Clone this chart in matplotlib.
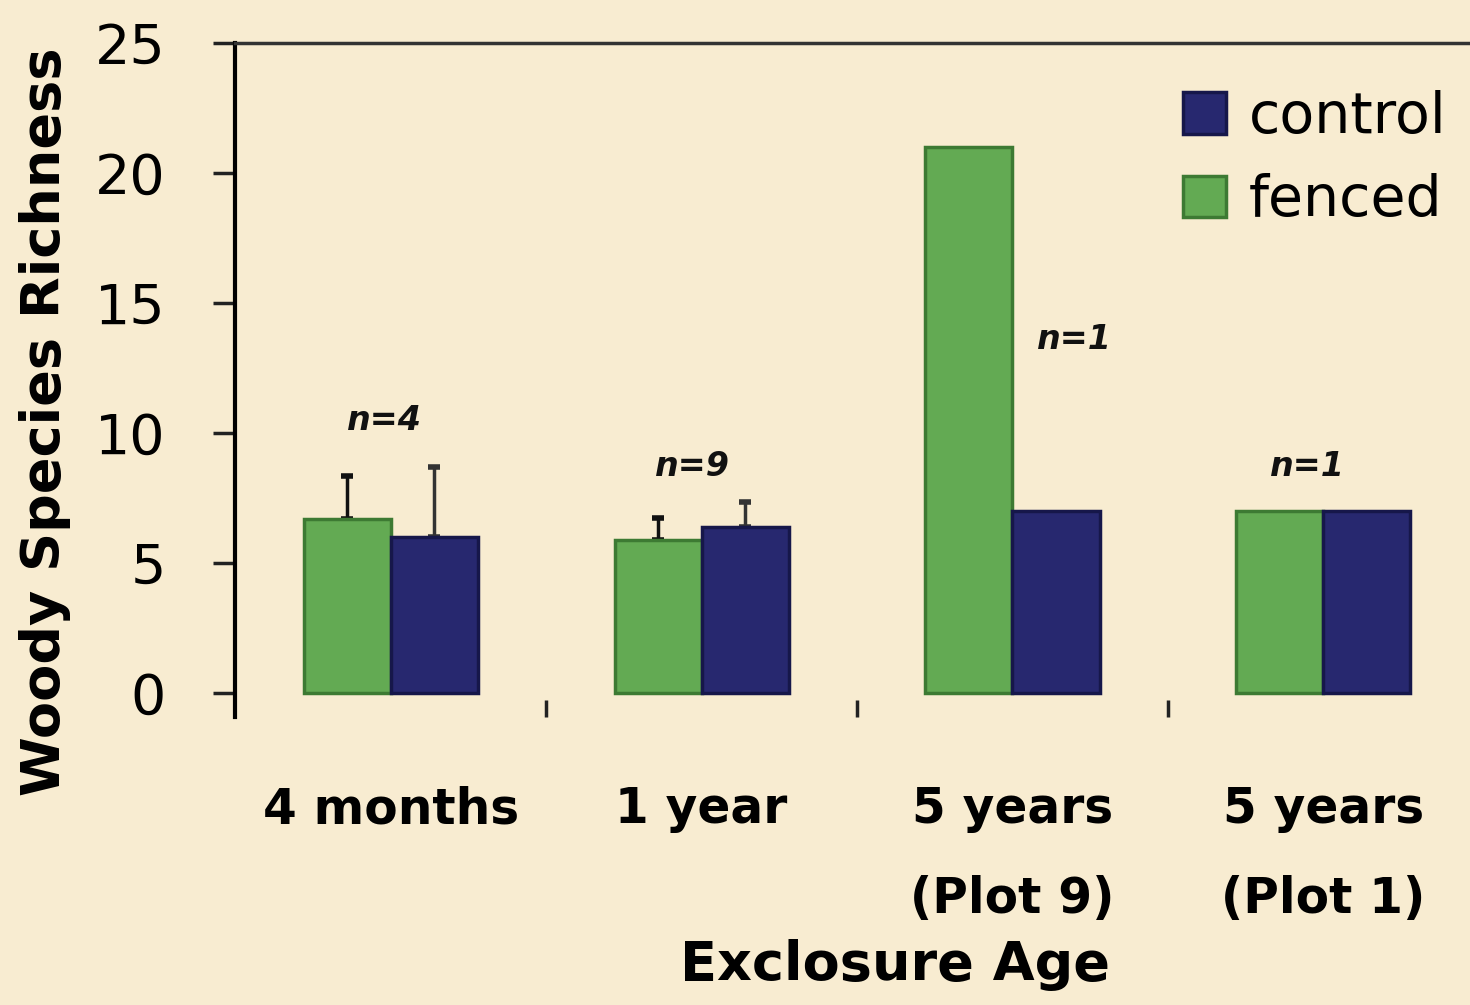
import matplotlib
matplotlib.use("Agg")
import matplotlib.pyplot as plt
import numpy as np

# values
categories = ["4 months", "1 year", "5 years\n(Plot 9)", "5 years\n(Plot 1)"]
fenced = [6.7, 5.9, 21.0, 7.0]
control = [6.0, 6.4, 7.0, 7.0]
fenced_err = [1.65, 0.85, 0, 0]
control_err = [2.7, 0.95, 0, 0]
n_labels = ["n=4", "n=9", "n=1", "n=1"]
n_pos = [(-0.02, 10.5), (0.97, 8.7), (2.2, 13.6), (2.95, 8.7)]

bg = "#f8ecd1"
green = "#63aa53"
blue = "#27286f"

plt.rcParams["font.family"] = ["DejaVu Sans"]

fig = plt.figure(figsize=(14.7, 10.05), dpi=100, facecolor=bg)
ax = fig.add_axes([0.160, 0.2866, 0.846, 0.6706], facecolor=bg)

x = np.arange(len(categories))
w = 0.28
ax.bar(x - w / 2, fenced, w, color=green, edgecolor="#3d7a33", linewidth=2.5,
       label="fenced", zorder=3)
ax.bar(x + w / 2, control, w, color=blue, edgecolor="#16174a", linewidth=2.5,
       label="control", zorder=3)

for xi, v, e in zip(x - w / 2, fenced, fenced_err):
    if e > 0:
        ax.errorbar(xi, v, yerr=[[0], [e]], fmt="none", ecolor="#111111",
                    elinewidth=2.5, capsize=4, capthick=4, zorder=2)
for xi, v, e in zip(x + w / 2, control, control_err):
    if e > 0:
        ax.errorbar(xi, v, yerr=[[0], [e]], fmt="none", ecolor="#333333",
                    elinewidth=2.5, capsize=4, capthick=4, zorder=2)

for lab, (px, py) in zip(n_labels, n_pos):
    ax.text(px, py, lab, fontsize=24, style="italic", fontweight="bold",
            ha="center", va="center", color="#111111")

ax.set_xlim(-0.5, 3.5)
ax.set_ylim(-0.92, 25)
ax.set_yticks([0, 5, 10, 15, 20, 25])
ax.tick_params(axis="y", length=16, width=2.5, pad=34, labelsize=40,
               color="#222222")

ax.set_xticks(x)
ax.set_xticklabels(categories, fontsize=35, fontweight="bold", linespacing=2.1)
ax.tick_params(axis="x", which="major", length=0, pad=49)
ax.set_xticks([0.5, 1.5, 2.5], minor=True)
ax.tick_params(axis="x", which="minor", direction="in", length=12, width=2.5,
               color="#222222")

ax.spines["bottom"].set_visible(False)
ax.spines["right"].set_visible(False)
ax.spines["left"].set_linewidth(3)
ax.spines["top"].set_linewidth(2.5)
ax.spines["top"].set_color("#333333")

fig.text(45 / 1470, 1 - 422 / 1005, "Woody Species Richness", rotation=90,
         fontsize=39, fontweight="bold", ha="center", va="center")
fig.text(895 / 1470, 1 - 965 / 1005, "Exclosure Age", fontsize=39,
         fontweight="bold", ha="center", va="center")

handles, labels = ax.get_legend_handles_labels()
ax.legend(handles[::-1], labels[::-1], loc="upper left",
          bbox_to_anchor=(1183 / 1470, 1 - 90 / 1005),
          bbox_transform=fig.transFigure,
          frameon=False, fontsize=41, handlelength=0.75, handleheight=0.75,
          handletextpad=0.4, labelspacing=0.5, borderpad=0, borderaxespad=0)

fig.savefig("out.png", dpi=100, facecolor=bg)
